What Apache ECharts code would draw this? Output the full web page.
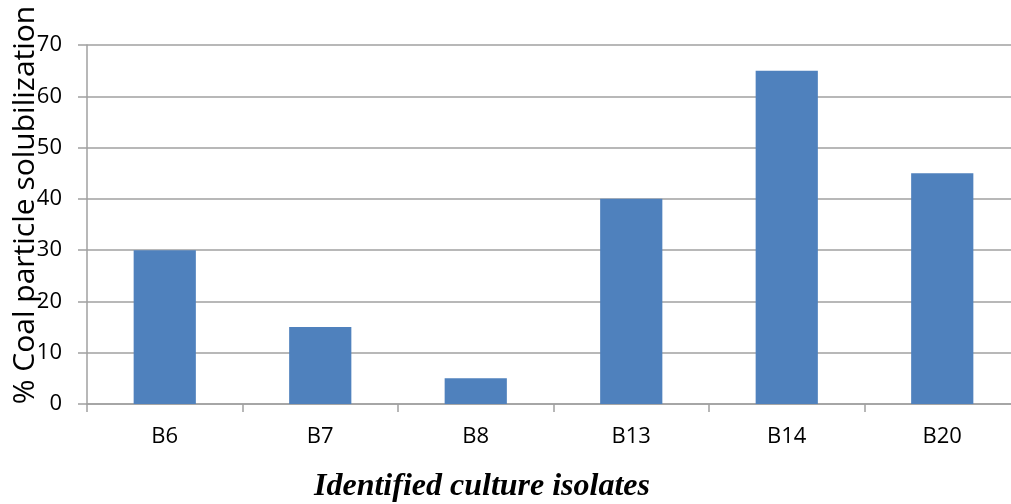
<!DOCTYPE html>
<html>
<head>
<meta charset="utf-8">
<script src="https://cdn.jsdelivr.net/npm/echarts@6/dist/echarts.min.js"></script>
<style>
  html, body { margin: 0; padding: 0; background: #fff; }
  #chart { width: 1011px; height: 504px; }
</style>
</head>
<body>
<div id="chart"></div>
<script>
// Isolates and their coal particle solubilization (%)
const isolates = ['B6', 'B7', 'B8', 'B13', 'B14', 'B20'];
const solubilization = [30, 15, 5, 40, 65, 45];
const yTicks = [0, 10, 20, 30, 40, 50, 60, 70];

const chart = echarts.init(document.getElementById('chart'));
const gridColor = '#a0a0a0';

chart.setOption({
  animation: false,
  // plot area runs slightly past the right edge of the canvas
  grid: { left: 87, width: 933, top: 45, bottom: 100, containLabel: false, outerBoundsMode: 'none' },
  xAxis: {
    type: 'category',
    data: isolates,
    axisLine: { show: true, lineStyle: { color: gridColor, width: 1.5 } },
    axisTick: { show: true, alignWithLabel: false, length: 8, lineStyle: { color: gridColor, width: 1.5 } },
    axisLabel: { color: '#000', fontSize: 22, fontFamily: 'Open Sans', margin: 22 }
  },
  yAxis: {
    type: 'value',
    min: yTicks[0],
    max: yTicks[yTicks.length - 1],
    interval: 10,
    axisLine: { show: true, lineStyle: { color: gridColor, width: 1.5 } },
    axisTick: { show: true, length: 9, lineStyle: { color: gridColor, width: 1.5 } },
    axisLabel: { color: '#000', fontSize: 22, fontFamily: 'Open Sans', margin: 25 },
    splitLine: { show: true, lineStyle: { color: gridColor, width: 1.5 } }
  },
  series: [{
    type: 'bar',
    data: solubilization,
    barWidth: '40%',
    itemStyle: { color: '#4F81BD' }
  }],
  graphic: [
    {
      type: 'text',
      x: 25, y: 205,
      rotation: Math.PI / 2,
      style: {
        text: '% Coal particle solubilization',
        fill: '#000',
        font: '30px "Open Sans"',
        textAlign: 'center',
        textVerticalAlign: 'middle'
      }
    },
    {
      type: 'text',
      x: 482, y: 487,
      style: {
        text: 'Identified culture isolates',
        fill: '#000',
        font: 'italic bold 32px "Liberation Serif"',
        textAlign: 'center',
        textVerticalAlign: 'middle'
      }
    }
  ]
});
</script>
</body>
</html>
